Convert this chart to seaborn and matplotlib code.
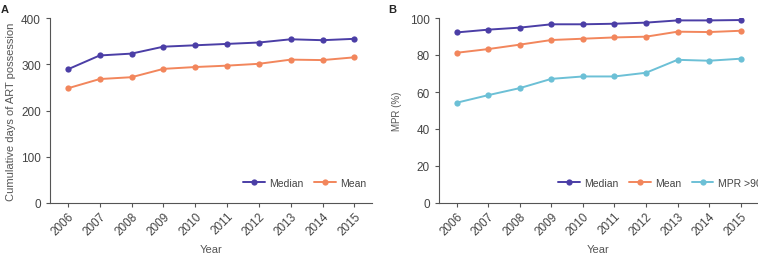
import pandas as pd
import seaborn as sns
import matplotlib.pyplot as plt

### DATA
years = [2006, 2007, 2008, 2009, 2010, 2011, 2012, 2013, 2014, 2015]

# Panel A: cumulative days of ART possession
days_median = [289, 319, 323, 338, 341, 344, 347, 354, 352, 355]
days_mean = [248, 268, 272, 290, 294, 297, 301, 310, 309, 315]

# Panel B: MPR (%)
mpr_median = [92.2, 93.7, 94.8, 96.6, 96.6, 96.9, 97.5, 98.7, 98.7, 98.9]
mpr_mean = [81.2, 83.2, 85.6, 88.1, 88.8, 89.5, 89.9, 92.6, 92.4, 93.1]
mpr_over90 = [54.2, 58.3, 62.1, 67.1, 68.4, 68.4, 70.4, 77.4, 76.9, 78.0]

colors = {'Median': '#4b3ea6', 'Mean': '#f2865c', 'MPR >90%': '#6cc0d6'}

df_a = pd.DataFrame({
    'Year': years * 2,
    'value': days_median + days_mean,
    'stat': ['Median'] * 10 + ['Mean'] * 10,
})
df_b = pd.DataFrame({
    'Year': years * 3,
    'value': mpr_median + mpr_mean + mpr_over90,
    'stat': ['Median'] * 10 + ['Mean'] * 10 + ['MPR >90%'] * 10,
})

### FIGURE
sns.set_style('ticks')
plt.rcParams['font.family'] = ['Liberation Sans', 'DejaVu Sans']

fig = plt.figure(figsize=(7.58, 2.55), dpi=100)
ax_a = fig.add_axes([50 / 758, 51 / 255, 322 / 758, 185 / 255])
ax_b = fig.add_axes([439 / 758, 51 / 255, 319 / 758, 185 / 255])

for ax, df in [(ax_a, df_a), (ax_b, df_b)]:
    sns.lineplot(
        data=df, x='Year', y='value', hue='stat', palette=colors,
        marker='o', markersize=4.5, markeredgewidth=0, linewidth=1.4, ax=ax,
    )
    ax.set_xlim(2006 - 0.56, 2015 + 0.55)
    ax.set_xticks(years)
    ax.set_xticklabels([str(y) for y in years], rotation=45, ha='right',
                       rotation_mode='anchor', fontsize=8.5, color='#444444')
    ax.tick_params(axis='y', labelsize=8.5, labelcolor='#444444', length=3, color='#555555')
    ax.tick_params(axis='x', length=3, color='#555555', pad=2)
    ax.set_xlabel('Year', fontsize=8, color='#555555', labelpad=5)
    for side in ['top', 'right']:
        ax.spines[side].set_visible(False)
    for side in ['left', 'bottom']:
        ax.spines[side].set_color('#555555')
        ax.spines[side].set_linewidth(0.8)
    handles, labels = ax.get_legend_handles_labels()
    ax.legend(handles, labels, loc='lower right', ncol=len(labels), frameon=False,
              fontsize=7.5, handlelength=2.1, columnspacing=1.0, handletextpad=0.4,
              bbox_to_anchor=(1.01, 0.03), labelcolor='#444444')

ax_a.set_ylim(0, 400)
ax_a.set_yticks([0, 100, 200, 300, 400])
ax_a.set_ylabel('Cumulative days of ART possession', fontsize=8, color='#555555', labelpad=4)

ax_b.set_ylim(0, 100)
ax_b.set_yticks([0, 20, 40, 60, 80, 100])
ax_b.set_ylabel('MPR (%)', fontsize=7, color='#555555', labelpad=6)
ax_b.get_legend().set_bbox_to_anchor((1.069, 0.03))

fig.text(0.5 / 758, 250 / 255, 'A', fontsize=8, fontweight='bold', va='top')
fig.text(388 / 758, 250 / 255, 'B', fontsize=8, fontweight='bold', va='top')

plt.savefig('out.png', dpi=100)
plt.close()
